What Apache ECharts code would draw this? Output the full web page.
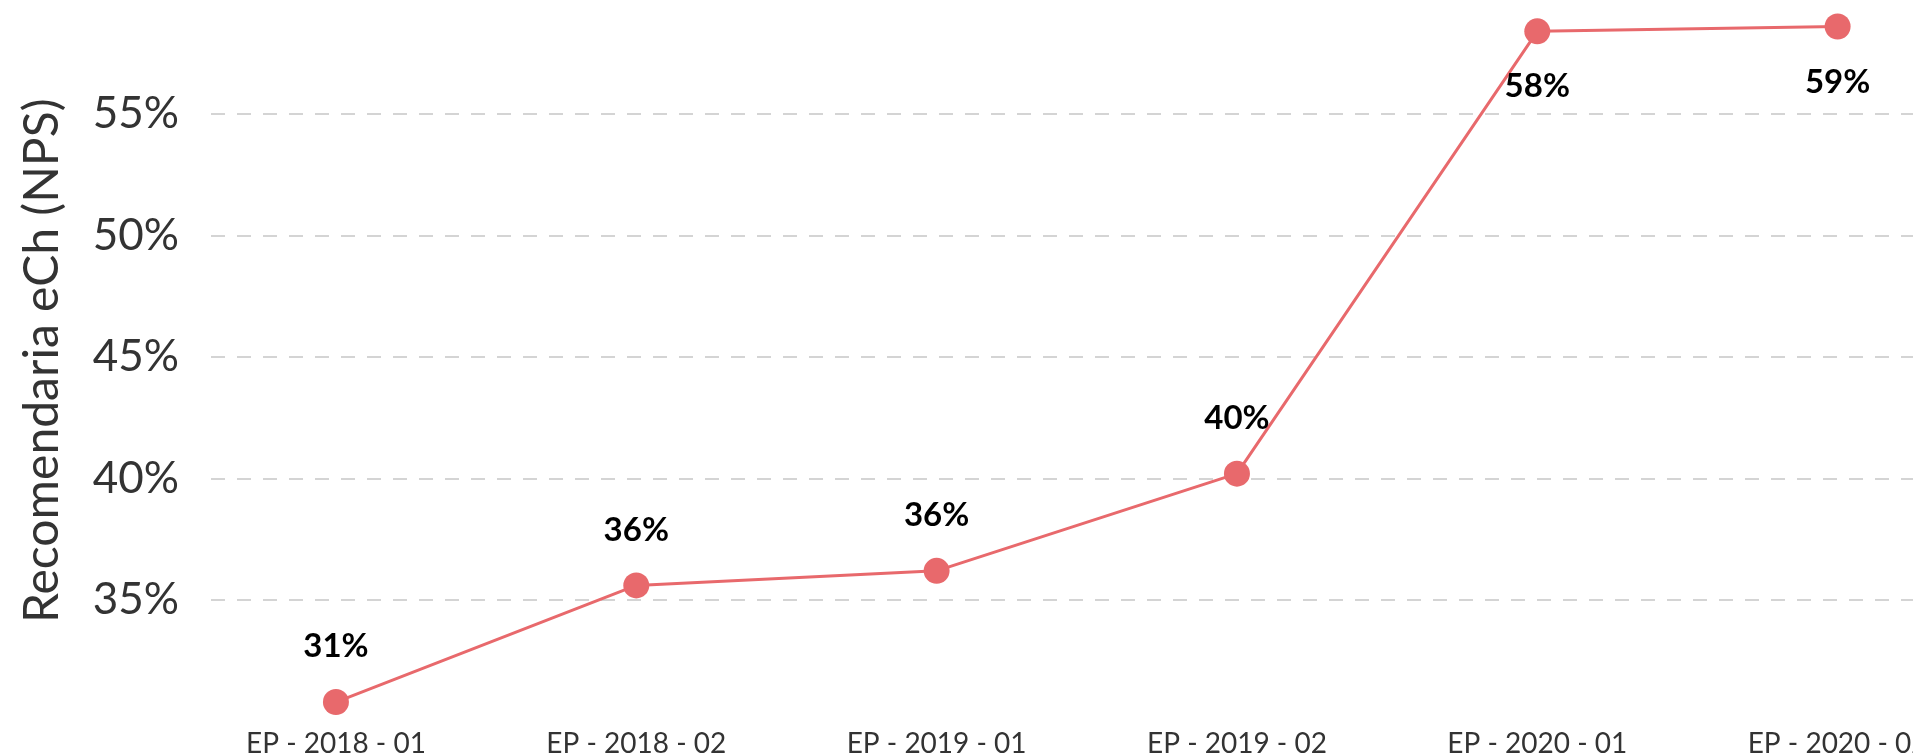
<!DOCTYPE html>
<html>
<head>
<meta charset="utf-8">
<script src="https://cdn.jsdelivr.net/npm/echarts@6/dist/echarts.min.js"></script>
<style>
  html, body { margin: 0; padding: 0; background: #fff; }
  #main { width: 1913px; height: 756px; }
</style>
</head>
<body>
<div id="main"></div>
<script>
var myChart = echarts.init(document.getElementById('main'));

var categories = ['EP - 2018 - 01', 'EP - 2018 - 02', 'EP - 2019 - 01', 'EP - 2019 - 02', 'EP - 2020 - 01', 'EP - 2020 - 02'];
var npsValues = [30.8, 35.6, 36.2, 40.2, 58.4, 58.6];
var labelPlace = ['top', 'top', 'top', 'top', 'bottom', 'bottom'];

var points = npsValues.map(function (v, i) {
  return {
    value: [i, v],
    label: { position: labelPlace[i] }
  };
});

var option = {
  animation: false,
  textStyle: { fontFamily: 'Lato' },
  grid: { left: 211, right: 0, top: 0, bottom: 34.5, outerBoundsMode: 'none' },
  xAxis: {
    type: 'value',
    min: -0.416,
    max: 5.251,
    axisLine: { show: false },
    axisTick: { show: false },
    splitLine: { show: false },
    axisLabel: {
      customValues: [0, 1, 2, 3, 4, 5],
      formatter: function (v) { return categories[v]; },
      color: '#333',
      fontSize: 28,
      margin: 8
    }
  },
  yAxis: {
    type: 'value',
    min: 30,
    max: 59.69,
    interval: 5,
    name: 'Recomendaria eCh (NPS)',
    nameLocation: 'middle',
    nameGap: 144,
    nameTextStyle: { color: '#333', fontSize: 48 },
    axisLine: { show: false },
    axisTick: { show: false },
    axisLabel: {
      showMinLabel: false,
      showMaxLabel: false,
      formatter: '{value}%',
      color: '#333',
      fontSize: 44,
      margin: 32
    },
    splitLine: {
      showMinLine: false,
      showMaxLine: false,
      lineStyle: { color: '#d4d4d4', type: [14, 12], width: 2 }
    }
  },
  series: [{
    name: 'NPS',
    type: 'line',
    data: points,
    symbol: 'circle',
    symbolSize: 26,
    itemStyle: { color: '#e8696c' },
    lineStyle: { color: '#e8696c', width: 3 },
    label: {
      show: true,
      distance: 26,
      color: '#000',
      fontSize: 33,
      fontWeight: 'bold',
      formatter: function (p) { return Math.round(p.value[1]) + '%'; }
    }
  }]
};
myChart.setOption(option);
</script>
</body>
</html>
